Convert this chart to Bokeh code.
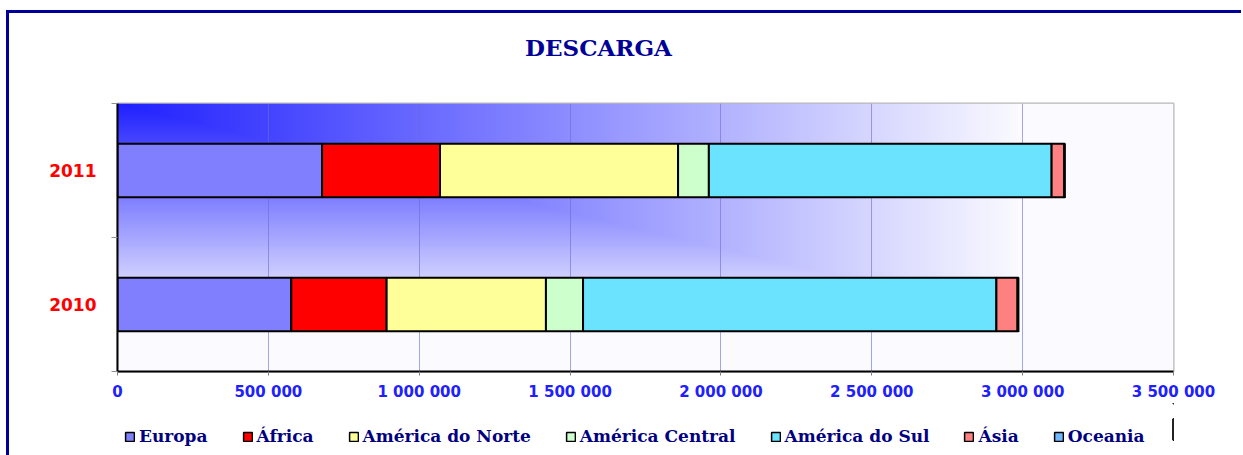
import numpy as np
from bokeh.plotting import figure
from bokeh.layouts import column
from bokeh.core.properties import value
from bokeh.models import (ColumnDataSource, Range1d, FixedTicker, Legend, LegendItem, LinearAxis)
from bokeh.embed import file_html
from bokeh.resources import INLINE

# ---- data ----
years = ["2010", "2011"]
regions = ["Europa", "África", "América do Norte", "América Central", "América do Sul", "Ásia", "Oceania"]
europa = [576000, 678000]
africa = [316000, 391000]
am_norte = [528000, 789000]
am_central = [123000, 102000]
am_sul = [1370000, 1136000]
asia = [70000, 41000]
oceania = [3000, 3000]
colors = ["#8080ff", "#ff0000", "#ffff99", "#ccffcc", "#6be3ff", "#ff8080", "#70b8ff"]
x_ticks = [0, 500000, 1000000, 1500000, 2000000, 2500000, 3000000, 3500000]
x_tick_labels = ["0", "500 000", "1 000 000", "1 500 000", "2 000 000", "2 500 000", "3 000 000", "3 500 000"]
chart_title = "DESCARGA"

keys = ["europa", "africa", "am_norte", "am_central", "am_sul", "asia", "oceania"]
ypos = [i + 0.5 for i in range(len(years))]
source = ColumnDataSource(dict(y=ypos, europa=europa, africa=africa, am_norte=am_norte,
                               am_central=am_central, am_sul=am_sul, asia=asia, oceania=oceania))

# ---- title strip ----
p0 = figure(width=1232, height=60, x_range=Range1d(0, 1), y_range=Range1d(0, 1),
            output_backend="svg", toolbar_location=None,
            x_axis_location=None, y_axis_location=None, min_border=0)
p0.outline_line_color = None
p0.grid.grid_line_color = None
p0.background_fill_color = "#ffffff"
p0.border_fill_color = "#ffffff"
p0.text(x=[0.4555], y=[0.433], text=[chart_title], text_align="center", text_baseline="middle",
        text_font=value("DejaVu Serif"), text_font_style="bold", text_font_size="23px",
        text_color="#000099")

# ---- main chart ----
p = figure(width=1232, height=330, y_range=Range1d(0, len(years)),
           x_range=Range1d(0, 3500000), output_backend="svg", toolbar_location=None,
           y_axis_location=None, x_axis_location=None,
           min_border_left=108, min_border_right=68, min_border_top=30, min_border_bottom=32)
p.background_fill_color = "#ffffff"
p.border_fill_color = "#ffffff"
p.outline_line_color = "#b8b8b8"
p.outline_line_width = 2

# background gradient (decorative plot-area fill)
nx, ny = 1056, 268
xx = np.arange(nx)[None, :]
yy = (ny - 1 - np.arange(ny))[:, None]
t = np.clip(np.maximum(xx / 900.0, yy / 215.0), 0, 1)
r = (32 + t * (250 - 32)).astype(np.uint32)
g = r.copy()
b = np.full_like(r, 255)
img = (np.uint32(255) << np.uint32(24)) | (b << np.uint32(16)) | (g << np.uint32(8)) | r
img = img.astype(np.uint32)
bg = p.image_rgba(image=[img], x=0, y=0, dw=3500000, dh=len(years))
bg.level = "image"

# grid
p.xgrid.ticker = FixedTicker(ticks=x_ticks[1:])
p.xgrid.grid_line_color = "#6a6ad8"
p.xgrid.grid_line_alpha = 0.6
p.ygrid.grid_line_color = None

renderers = p.hbar_stack(keys, y="y", height=0.4, color=colors, source=source,
                         line_color="black", line_width=2)

# axes
xaxis = LinearAxis(ticker=FixedTicker(ticks=x_ticks),
                   major_label_overrides={v: s for v, s in zip(x_ticks, x_tick_labels)})
xaxis.axis_line_color = "black"
xaxis.axis_line_width = 2
xaxis.major_tick_out = 4
xaxis.major_tick_in = 0
xaxis.major_tick_line_color = "#808080"
xaxis.minor_tick_line_color = None
xaxis.major_label_standoff = 7
xaxis.major_label_text_font = "DejaVu Sans"
xaxis.major_label_text_font_style = "bold"
xaxis.major_label_text_font_size = "15px"
xaxis.major_label_text_color = "#2020ff"
p.add_layout(xaxis, "below")

yaxis = LinearAxis(ticker=FixedTicker(ticks=ypos, minor_ticks=list(range(len(years) + 1))),
                   major_label_overrides={v: s for v, s in zip(ypos, years)})
yaxis.axis_line_color = "black"
yaxis.axis_line_width = 2
yaxis.major_tick_line_color = None
yaxis.minor_tick_out = 6
yaxis.minor_tick_in = 0
yaxis.minor_tick_line_color = "#909090"
yaxis.major_label_standoff = 15
yaxis.major_label_text_font = "DejaVu Sans"
yaxis.major_label_text_font_style = "bold"
yaxis.major_label_text_font_size = "17px"
yaxis.major_label_text_color = "#ff0000"
p.add_layout(yaxis, "left")

# ---- legend strip (same series; bars fall outside its range) ----
p2 = figure(width=1232, height=52, x_range=Range1d(-2, -1), y_range=Range1d(0, 1),
            output_backend="svg", toolbar_location=None,
            x_axis_location=None, y_axis_location=None, min_border=0)
p2.outline_line_color = None
p2.grid.grid_line_color = None
p2.background_fill_color = "#ffffff"
p2.border_fill_color = "#ffffff"
leg_renderers = p2.hbar_stack(keys, y="y", height=0.4, color=colors, source=source,
                              line_color="black", line_width=1.5)
items = [LegendItem(label=name, renderers=[rr]) for name, rr in zip(regions, leg_renderers)]
legend = Legend(items=items, orientation="horizontal", location=(7, 9))
legend.glyph_width = 11
legend.glyph_height = 11
legend.label_standoff = 4
legend.spacing = 34
legend.padding = 0
legend.margin = 0
legend.border_line_color = None
legend.background_fill_alpha = 0
legend.label_text_font = "DejaVu Serif"
legend.label_text_font_style = "bold"
legend.label_text_font_size = "17px"
legend.label_text_color = "#000080"
p2.add_layout(legend, "center")

layout = column(p0, p, p2, spacing=0,
                styles={"border-top": "3px solid #000099", "border-left": "3px solid #000099",
                        "margin-left": "6px", "margin-top": "10px"})

open("out.html", "w").write(file_html(layout, INLINE))
